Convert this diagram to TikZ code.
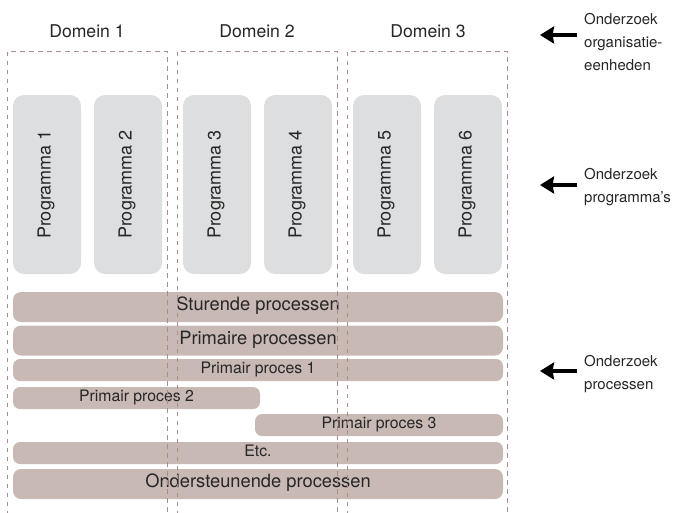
\documentclass[tikz,border=0pt]{standalone}
\usepackage{fontspec}
\setmainfont{TeX Gyre Heros}
\usetikzlibrary{arrows.meta}
\definecolor{barc}{HTML}{C8B9B4}
\definecolor{progc}{HTML}{DDDEE0}
\definecolor{dashc}{HTML}{A88D88}
\begin{document}
\begin{tikzpicture}[x=1pt,y=-1pt,
  domainbox/.style={draw=dashc, line width=0.9pt, dash pattern=on 4.5pt off 4.5pt},
  domlabel/.style={anchor=base, inner sep=0pt, font=\fontsize{17.6}{21}\selectfont, text=black!85},
  progbox/.style={fill=progc, rounded corners=11pt, rotate=90, inner sep=0pt,
    minimum width=179pt, minimum height=68pt, font=\fontsize{18}{21}\selectfont,
    text height=0.72em, text depth=0pt, text=black!85},
  procbar/.style={fill=barc, inner sep=0pt, text height=0.72em, text depth=0pt, text=black!85},
  bigbar/.style={procbar, rounded corners=8pt, minimum height=30pt, font=\fontsize{18.3}{21}\selectfont},
  smallbar/.style={procbar, rounded corners=7pt, minimum height=22pt, font=\fontsize{15.8}{18}\selectfont},
  sidelabel/.style={anchor=west, align=left, inner sep=0pt, font=\fontsize{15}{23}\selectfont, text=black!85},
  sidearrow/.style={line width=3.2pt, -{Stealth[length=14pt,width=17pt,inset=1.5pt]}}
]
\useasboundingbox (0,0) rectangle (674,512);

% domain labels
\node[domlabel] (d1) at (87,37.3) {Domein 1};
\node[domlabel] (d2) at (257,37.3) {Domein 2};
\node[domlabel] (d3) at (428,37.3) {Domein 3};

% programme boxes
\node[progbox] (p1) at (47,184.5) {Programma 1};
\node[progbox] (p2) at (128,184.5) {Programma 2};
\node[progbox] (p3) at (217,184.5) {Programma 3};
\node[progbox] (p4) at (298,184.5) {Programma 4};
\node[progbox] (p5) at (387,184.5) {Programma 5};
\node[progbox] (p6) at (468,184.5) {Programma 6};

% process bars
\node[bigbar, minimum width=490pt] (b1) at (258,307) {Sturende processen};
\node[bigbar, minimum width=490pt] (b2) at (258,340.5) {Primaire processen};
\node[smallbar, minimum width=490pt] (b3) at (258,370) {Primair proces 1};
\node[smallbar, minimum width=247pt] (b4) at (136.5,398) {Primair proces 2};
\node[smallbar, minimum width=248pt] (b5) at (379,425) {Primair proces 3};
\node[smallbar, minimum width=490pt] (b6) at (258,453) {Etc.};
\node[bigbar, minimum width=490pt] (b7) at (258,484) {Ondersteunende processen};

% domain frames (open at the bottom)
\draw[domainbox] (7,515) |- (167,51) -- (167,515);
\draw[domainbox] (177,515) |- (337,51) -- (337,515);
\draw[domainbox] (347,515) |- (507,51) -- (507,515);

% side labels and arrows
\node[sidelabel] (l1) at (584,42.5) {Onderzoek\\organisatie-\\eenheden};
\node[sidelabel] (l2) at (584,187.5) {Onderzoek\\programma's};
\node[sidelabel] (l3) at (584,374.5) {Onderzoek\\processen};

\coordinate (t1) at (577,35);  \coordinate (h1) at (540,35);
\coordinate (t2) at (577,185); \coordinate (h2) at (540,185);
\coordinate (t3) at (577,371); \coordinate (h3) at (540,371);
\draw[sidearrow] (t1) -- (h1);
\draw[sidearrow] (t2) -- (h2);
\draw[sidearrow] (t3) -- (h3);
\end{tikzpicture}
\end{document}
